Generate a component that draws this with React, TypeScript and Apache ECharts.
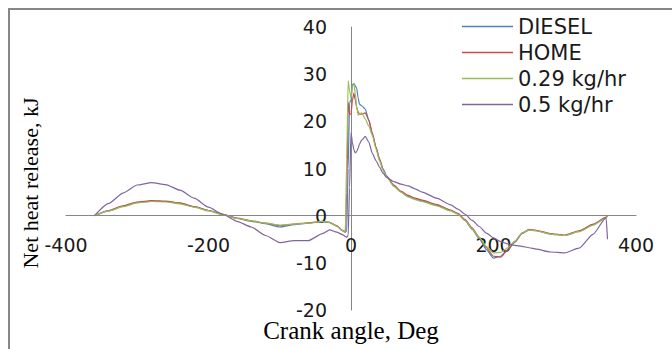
import React, { useEffect, useRef } from "react";
import * as echarts from "echarts";

// Crank angle grid (deg) shared by all four runs
const crankAngle = [
  -360, -340, -320, -300, -280, -260, -240, -220, -200, -180, -160, -140, -120, -100, -80, -60,
  -40, -30, -20, -12, -8, -6, -4, -2, 0, 2, 4, 6, 8, 10, 12, 15, 20, 25, 30, 35, 40, 45, 50, 60,
  70, 80, 90, 100, 120, 140, 150, 160, 170, 180, 190, 200, 210, 220, 230, 240, 250, 260, 280,
  300, 320, 340, 358, 360,
];

// Net heat release (kJ)
const diesel = [
  0, 1.0, 2.0, 2.8, 3.1, 3.0, 2.6, 1.9, 1.1, 0.3, -0.6, -1.2, -1.7, -2.4, -1.9, -1.6,
  -1.3, -1.5, -2.2, -3.2, -3.5, -3.2, 10, 24, 24.5, 27.8, 28.0, 27.6, 27.0, 25.0, 23.6, 23.3, 22.6, 20.2, 17.3, 14.6, 12.0, 9.9, 8.4, 6.4,
  5.1, 4.1, 3.5, 3.1, 2.2, 1.1, 0.4, -1.0, -2.9, -4.9, -7.2, -9.0, -8.6, -7.2, -5.6, -3.8, -3.0, -3.2, -3.9,
  -4.2, -3.3, -1.9, -0.4, 0,
];

const home = [
  0, 1.1, 2.1, 2.9, 3.2, 3.1, 2.7, 1.9, 1.1, 0.3, -0.5, -1.1, -1.6, -2.1, -1.8, -1.5,
  -1.2, -1.4, -2.1, -3.1, -3.4, 5, 24.0, 21.5, 21.5, 24.5, 26.0, 24.5, 23.0, 22.0, 21.5, 21.5, 21.8, 20.3, 17.5, 14.5, 12.0, 9.8, 8.3, 6.5,
  5.2, 4.3, 3.7, 3.3, 2.4, 1.2, 0.5, -0.8, -2.6, -4.6, -6.8, -8.6, -8.8, -7.3, -5.5, -3.7, -2.9, -3.1, -3.8,
  -4.1, -3.2, -1.8, -0.3, 0,
];

const flow029 = [
  0, 1.0, 1.9, 2.7, 3.0, 2.9, 2.5, 1.8, 1.0, 0.2, -0.6, -1.1, -1.6, -2.0, -1.8, -1.6,
  -1.2, -1.4, -2.2, -3.2, -3.6, 12.0, 28.6, 26.5, 25.0, 27.5, 28.0, 26.0, 23.0, 21.3, 21.6, 21.8, 20.5, 19.0, 17.0, 14.2, 11.6, 9.6, 8.2, 6.2,
  5.0, 4.0, 3.4, 3.0, 2.1, 1.0, 0.3, -1.0, -2.8, -4.6, -6.5, -7.9, -7.8, -6.8, -5.4, -3.7, -3.0, -3.2, -3.9,
  -4.2, -3.4, -2.0, -0.5, 0,
];

const flow05 = [
  0, 2.6, 4.8, 6.5, 7.0, 6.6, 5.4, 3.7, 1.8, 0.3, -1.2, -2.4, -4.2, -5.7, -5.3, -5.3,
  -3.8, -3.0, -3.5, -4.0, -4.4, -4.6, -4.2, 6.0, 17.6, 15.5, 14.0, 13.3, 13.6, 14.3, 15.2, 16.0, 16.8, 15.6, 13.2, 11.7, 10.3, 9.0, 8.1, 7.2,
  6.7, 6.3, 5.7, 5.0, 3.7, 2.3, 1.4, 0.3, -1.0, -2.3, -3.7, -4.7, -5.5, -6.0, -6.3, -6.5, -6.8, -7.1, -7.7,
  -7.9, -6.9, -3.9, -0.4, -5.0,
];

const seriesNames = ["DIESEL", "HOME", "0.29 kg/hr", "0.5 kg/hr"];
const seriesValues = [diesel, home, flow029, flow05];
const seriesColors = ["#4F81BD", "#C0504D", "#9BBB59", "#8064A2"];

const xRange = [-400, 400];
const yRange = [-20, 40];

const xTitle = "Crank angle, Deg";
const yTitle = "Net heat release, kJ";

const W = 672;
const H = 349;
const gridBox = { left: 66, right: 36, top: 27, bottom: 39 };

export default function App() {
  const ref = useRef<HTMLDivElement>(null);

  useEffect(() => {
    if (!ref.current) return;
    const chart = echarts.init(ref.current, null, { renderer: "svg" });

    // Both axes cross at the origin: shift each axis from its grid edge to zero
    const gw = W - gridBox.left - gridBox.right;
    const gh = H - gridBox.top - gridBox.bottom;
    const zeroX = gridBox.left + (gw * (0 - xRange[0])) / (xRange[1] - xRange[0]);
    const zeroY = gridBox.top + (gh * (yRange[1] - 0)) / (yRange[1] - yRange[0]);
    const xAxisOffset = -(H - gridBox.bottom - zeroY);
    const yAxisOffset = -(zeroX - gridBox.left);

    const tickFont = {
      fontFamily: "DejaVu Sans",
      fontSize: 19,
      color: "#1a1a1a",
    };

    chart.setOption({
      animation: false,
      backgroundColor: "#ffffff",
      grid: {
        ...gridBox,
        containLabel: false,
        outerBoundsMode: "none",
      },
      legend: {
        orient: "vertical",
        left: 457,
        top: 11,
        icon: "rect",
        itemWidth: 51,
        itemHeight: 1.3,
        itemGap: 5,
        data: seriesNames,
        textStyle: { ...tickFont, fontSize: 21, lineHeight: 20 },
      },
      xAxis: {
        type: "value",
        min: xRange[0],
        max: xRange[1],
        interval: 200,
        offset: xAxisOffset,
        axisLine: { onZero: false, lineStyle: { color: "#868686", width: 1 } },
        axisTick: { show: false },
        splitLine: { show: false },
        axisLabel: { ...tickFont, margin: 20 },
      },
      yAxis: {
        type: "value",
        min: yRange[0],
        max: yRange[1],
        interval: 10,
        offset: yAxisOffset,
        axisLine: { show: true, onZero: false, lineStyle: { color: "#868686", width: 1 } },
        axisTick: { show: false },
        splitLine: { show: false },
        axisLabel: { ...tickFont, margin: 24, lineHeight: 14 },
      },
      graphic: [
        {
          type: "rect",
          silent: true,
          z: -1,
          shape: { x: 9, y: 9, width: 700, height: 400 },
          style: { fill: "none", stroke: "#878787", lineWidth: 2 },
        },
        {
          type: "text",
          x: 351,
          y: 330,
          style: {
            text: xTitle,
            fill: "#000",
            font: '25px "Liberation Serif"',
            textAlign: "center",
            textVerticalAlign: "middle",
          },
        },
        {
          type: "text",
          x: 30,
          y: 183,
          rotation: Math.PI / 2,
          style: {
            text: yTitle,
            fill: "#000",
            font: '22px "Liberation Serif"',
            textAlign: "center",
            textVerticalAlign: "middle",
          },
        },
      ],
      series: seriesNames.map((name, k) => ({
        name,
        type: "line",
        symbol: "none",
        showSymbol: false,
        smooth: 0.2,
        smoothMonotone: "x",
        color: seriesColors[k],
        lineStyle: { width: 1.2, color: seriesColors[k] },
        itemStyle: { color: seriesColors[k] },
        data: crankAngle.map((a, i) => [a, seriesValues[k][i]]),
      })),
    });

    return () => chart.dispose();
  }, []);

  return (
    <div
      ref={ref}
      style={{
        position: "absolute",
        left: 0,
        top: 0,
        width: W,
        height: H,
        background: "#ffffff",
      }}
    />
  );
}
